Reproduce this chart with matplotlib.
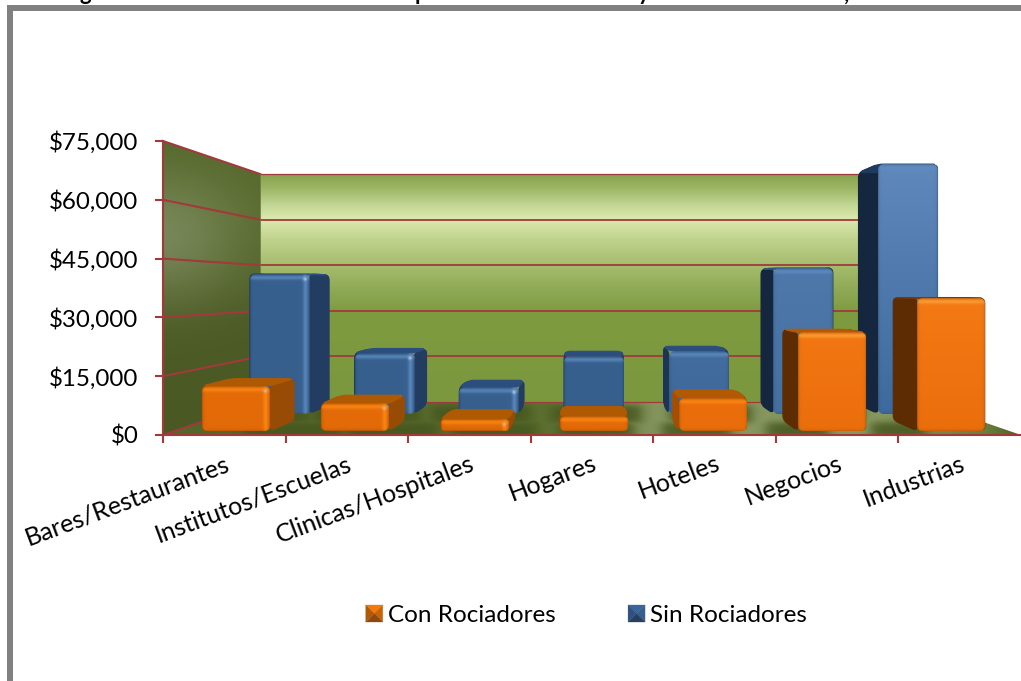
import numpy as np
import matplotlib
matplotlib.use("Agg")
import matplotlib.pyplot as plt
from matplotlib.colors import to_rgb
from matplotlib.legend_handler import HandlerBase
from matplotlib.lines import Line2D
from matplotlib.patches import Patch, PathPatch, Polygon, Rectangle
from matplotlib.path import Path
from matplotlib.ticker import FuncFormatter

# --- data -----------------------------------------------------------------
categories = ["Bares/Restaurantes", "Institutos/Escuelas", "Clinicas/Hospitales",
              "Hogares", "Hoteles", "Negocios", "Industrias"]
con_rociadores = [11800, 7100, 3000, 3900, 8600, 25800, 34800]
sin_rociadores = [41700, 18100, 7900, 17200, 18800, 43500, 74500]
series_names = ["Con Rociadores", "Sin Rociadores"]
value_ticks = [0, 15000, 30000, 45000, 60000, 75000]

# --- styling --------------------------------------------------------------
W, H = 1021, 681
AX_L, AX_R, AX_T, AX_B = 163, 1021, 141, 435
RED = "#A23A3C"
FONT = "Lato"

plt.rcParams["font.family"] = [FONT, "DejaVu Sans"]

orange_front = ["#E56B08", "#E56B08", "#E56B08", "#E56B08", "#EA6E0A", "#F27712", "#F47A15"]
orange_front_low = ["#E26A08", "#E26A08", "#E26A08", "#E26A08", "#E96D0B", "#EB6E0C", "#EB6E0C"]
orange_side = ["#974B04", "#974B04", "#974B04", "#974B04", "#A34E03", "#5E2C02", "#5E2C02"]
orange_top = ["#AF5903", "#AF5903", "#AF5903", "#AF5903", "#B25A03", "#B35A03", "#7A3A02"]
blue_front = ["#38608F", "#38608F", "#38608F", "#38608F", "#436D9F", "#4F78AB", "#6088BC"]
blue_front_low = ["#38608F", "#38608F", "#38608F", "#38608F", "#3E6899", "#44709F", "#3D6A9E"]
blue_side = ["#223C62", "#223C62", "#223C62", "#223C62", "#1C3554", "#15273F", "#15273F"]
blue_top = ["#2C4E7E", "#2C4E7E", "#2C4E7E", "#2C4E7E", "#2C4E7E", "#2F5180", "#1F3A5E"]

# depth of each bar row, from 0 at the front plane to 1 at the back wall
ROW_CON = (0.10, 0.384)
ROW_SIN = (0.59, 0.89)
BAR_LEFT, BAR_RIGHT = 0.228, 0.796

# perspective: everything converges on one vanishing point in data units
VANISH_X, VANISH_V = 3.525, 37500.0
PERSPECTIVE = 0.2895

PX_X = (AX_R - AX_L) / 7.0
PX_V = (AX_B - AX_T) / 75000.0


def project(x, v, depth):
    s = 1.0 / (1.0 + PERSPECTIVE * depth)
    return VANISH_X + s * (x - VANISH_X), VANISH_V + s * (v - VANISH_V)


def lerp(a, b, t):
    a, b = np.asarray(a), np.asarray(b)
    t = np.asarray(t)[..., None]
    return a * (1 - t) + b * t


def ramp(positions, colors, samples):
    rgb = np.array([to_rgb(c) for c in colors])
    return np.stack([np.interp(samples, positions, rgb[:, i]) for i in range(3)], axis=-1)


def rounded_outline(points, radius_px):
    """Closed path through data-space points with the corners eased off."""
    pts = np.array(points) * (PX_X, PX_V)
    n = len(pts)
    verts, codes = [], []
    for k in range(n):
        prev_pt, corner, next_pt = pts[k - 1], pts[k], pts[(k + 1) % n]
        to_prev, to_next = prev_pt - corner, next_pt - corner
        len_prev, len_next = np.hypot(*to_prev), np.hypot(*to_next)
        r_in = min(radius_px, len_prev * 0.45)
        r_out = min(radius_px, len_next * 0.45)
        start = corner + to_prev / max(len_prev, 1e-6) * r_in
        end = corner + to_next / max(len_next, 1e-6) * r_out
        if k == 0:
            verts.append(start)
            codes.append(Path.MOVETO)
        else:
            verts.append(start)
            codes.append(Path.LINETO)
        verts.extend([corner, end])
        codes.extend([Path.CURVE3, Path.CURVE3])
    verts.append(verts[0])
    codes.append(Path.CLOSEPOLY)
    return Path(np.array(verts) / (PX_X, PX_V), codes)


fig = plt.figure(figsize=(W / 100, H / 100), dpi=100)
ax = fig.add_axes([AX_L / W, 1 - AX_B / H, (AX_R - AX_L) / W, (AX_B - AX_T) / H])
ax.set_facecolor("none")
ax.set_autoscale_on(False)
ax.set_xlim(0, 7)
ax.set_ylim(0, 75000)


def draw_image(rgba, x0, x1, v0, v1, clip=None, zorder=1):
    im = ax.imshow(rgba, extent=(x0, x1, v0, v1), origin="upper", aspect="auto",
                   zorder=zorder, interpolation="bilinear", clip_on=clip is not None)
    if clip is not None:
        im.set_clip_path(clip)
    return im


# --- walls and floor -------------------------------------------------------
bx0, bv0 = project(0, 0, 1)
bx7, bv7 = project(7, 75000, 1)

# back wall: light band across the upper part, flat olive below
rows = np.linspace(bv7, bv0, 240)
row_px = AX_B - rows * PX_V
wall_rgb = ramp([174, 190, 205, 219, 240, 265, 290, 312, 402],
                ["#88A24E", "#A0B96A", "#C3D795", "#DCE9AE", "#BFD28C", "#A6BC6E",
                 "#8EA955", "#7F9B40", "#7C983E"], row_px)
wall = np.repeat(wall_rgb[:, None, :], 4, axis=1)
draw_image(wall, bx0, bx7, bv0, bv7, zorder=1)

# side wall: dark olive with a soft pale patch
sx = np.linspace(AX_L, 260, 120)
sy = np.linspace(AX_T, 402, 300)
gx, gy = np.meshgrid(sx, sy)
patch_amount = np.exp(-((gx - 160) / 85) ** 2 - ((gy - 225) / 58) ** 2)
side_base = ramp([141, 200, 300, 435], ["#54662A", "#566829", "#4C5B25", "#4A5923"], gy)
side_rgb = lerp(side_base.reshape(-1, 3), to_rgb("#85936A"), patch_amount.ravel() * 0.72).reshape(gx.shape + (3,))
side_poly = Polygon([project(0, 75000, 0), project(0, 75000, 1), project(0, 0, 1), project(0, 0, 0)],
                    transform=ax.transData, closed=True, facecolor="none", edgecolor="none")
ax.add_patch(side_poly)
draw_image(side_rgb, 0, bx0, 0, 75000, clip=side_poly, zorder=1)

# floor with soft shadows around the foot of each bar
fx = np.linspace(AX_L, AX_R, 860)
fy = np.linspace(402, 435, 70)
hx, hy = np.meshgrid(fx, fy)
floor_rgb = ramp([163, 545, 660, 880, 985, 1021],
                 ["#546629", "#5C7030", "#85975F", "#87995F", "#6A7E3E", "#4C5F22"], hx)
shadow = np.zeros_like(hx)
for i in range(len(categories)):
    for depth_range, pad in ((ROW_CON, 16), (ROW_SIN, 12)):
        xa, va = project(i + BAR_LEFT, 0, depth_range[0])
        xb, vb = project(i + BAR_RIGHT, 0, depth_range[1])
        left = AX_L + min(xa, xb) * PX_X - pad * 0.6
        right = AX_L + max(xa, xb) * PX_X + pad
        top = AX_B - vb * PX_V
        bottom = AX_B - va * PX_V + 1
        cover = (0.5 * (np.tanh((hx - left) / 7) - np.tanh((hx - right) / 7))
                 * 0.5 * (np.tanh((hy - top + 6) / 4) - np.tanh((hy - bottom) / 4)))
        shadow = np.maximum(shadow, cover)
floor_rgb = lerp(floor_rgb, to_rgb("#46571F"), shadow * 0.9)
floor_poly = Polygon([project(0, 0, 0), project(0, 0, 1), project(7, 0, 1), project(7, 0, 0)],
                     transform=ax.transData, closed=True, facecolor="none", edgecolor="none")
ax.add_patch(floor_poly)
draw_image(floor_rgb[::-1], 0, 7, 0, (AX_B - 402) / PX_V, clip=floor_poly, zorder=1.5)

# gridlines on the side wall and along the back wall
for tick in value_ticks:
    xa, va = project(0, tick, 0)
    xb, vb = project(0, tick, 1)
    xc, vc = project(7, tick, 1)
    ax.add_line(Line2D([xa, xb], [va, vb], color=RED, lw=1.5, zorder=2, clip_on=False))
    ax.add_line(Line2D([xb, xc], [vb, vc], color=RED, lw=1.3 if 0 < tick < 75000 else 0.9,
                       zorder=2, clip_on=False))
ax.add_line(Line2D([bx0, bx0], [bv0, bv7], color="#6A7A3A", lw=0.6, zorder=2, clip_on=False))


# --- bars ------------------------------------------------------------------
def front_face(width_px, height_px, top_c, low_c, hi_c, right_bevel, spot):
    """Rounded, bevelled front of a bar as an RGBA image."""
    ss = 3
    nx, ny = max(int(width_px * ss), 4), max(int(height_px * ss), 4)
    u = (np.arange(nx) + 0.5) / ss
    v = (np.arange(ny) + 0.5) / ss
    uu, vv = np.meshgrid(u, v)
    rgb = lerp(to_rgb(top_c), to_rgb(low_c), vv / height_px)

    band = min(3.5, height_px * 0.25)
    top_band = np.exp(-((vv - band) / 2.2) ** 2) * 0.75
    rgb = lerp(rgb, to_rgb(hi_c), top_band)
    if right_bevel:
        side_band = np.exp(-((width_px - uu - 4.5) / 2.4) ** 2) * 0.8
        rgb = lerp(rgb, to_rgb(hi_c), side_band)
    if spot:
        dist2 = (width_px - uu - 5) ** 2 + (vv - 5) ** 2
        rgb = lerp(rgb, (0.80, 0.85, 0.92), np.exp(-dist2 / 3.0) * spot)
    edge = np.minimum.reduce([uu, width_px - uu, vv, height_px - vv])
    rgb = rgb * (1 - 0.22 * np.exp(-edge / 1.1))[..., None]

    radius = min(6.0, height_px * 0.35)
    qx = np.abs(uu - width_px / 2) - (width_px / 2 - radius)
    qy = np.abs(vv - height_px / 2) - (height_px / 2 - radius)
    sdf = np.hypot(np.maximum(qx, 0), np.maximum(qy, 0)) + np.minimum(np.maximum(qx, qy), 0) - radius
    alpha = np.clip(0.5 - sdf, 0, 1)
    return np.dstack([np.clip(rgb, 0, 1), alpha])


def draw_bar(i, value, row, front_c, low_c, side_c, top_c, hi_c, spot, zorder):
    d0, d1 = row
    xl, xr = i + BAR_LEFT, i + BAR_RIGHT
    faces = [
        ([(xl, 0, d0), (xl, 0, d1), (xl, value, d1), (xl, value, d0)], side_c),
        ([(xr, 0, d0), (xr, 0, d1), (xr, value, d1), (xr, value, d0)], side_c),
        ([(xl, value, d0), (xl, value, d1), (xr, value, d1), (xr, value, d0)], top_c),
    ]
    for corners, color in faces:
        pts = [project(*c) for c in corners]
        ax.add_patch(PathPatch(rounded_outline(pts, 5), facecolor=color, edgecolor=color, lw=0.8,
                               zorder=zorder, clip_on=False))
    x0, v0 = project(xl, 0, d0)
    x1, v1 = project(xr, value, d0)
    bevel_right = x1 < VANISH_X - 0.4
    img = front_face((x1 - x0) * PX_X, (v1 - v0) * PX_V, front_c, low_c, hi_c, bevel_right,
                     spot if bevel_right else 0)
    ax.imshow(img, extent=(x0, x1, v0, v1), origin="upper", aspect="auto",
              zorder=zorder + 0.1, interpolation="antialiased", clip_on=False)


for i, value in enumerate(sin_rociadores):
    draw_bar(i, value, ROW_SIN, blue_front[i], blue_front_low[i], blue_side[i], blue_top[i],
             "#5F8FC4", 0.75, 3 + i * 0.01)
for i, value in enumerate(con_rociadores):
    draw_bar(i, value, ROW_CON, orange_front[i], orange_front_low[i], orange_side[i], orange_top[i],
             "#FF8C14" if i < 5 else "#FFA53C", 0.6, 4 + i * 0.01)

# --- axes ------------------------------------------------------------------
for name in ("top", "right"):
    ax.spines[name].set_visible(False)
for name in ("left", "bottom"):
    ax.spines[name].set_color(RED)
    ax.spines[name].set_linewidth(1.5)
    ax.spines[name].set_zorder(2.5)
ax.set_xticks(range(7))
ax.set_xticks(np.arange(7) + 0.5, categories, minor=True)
ax.set_xticklabels([])
ax.set_yticks(value_ticks)
ax.yaxis.set_major_formatter(FuncFormatter(lambda y, _: f"${y:,.0f}"))
ax.tick_params(axis="both", which="major", length=5.8, width=1.5, color=RED,
               labelsize=17.4, labelcolor="black", pad=12)
ax.tick_params(axis="x", which="minor", length=0, pad=12, labelsize=18)
for label in ax.get_xticklabels(minor=True):
    label.set_rotation(20.5)
    label.set_ha("right")
    label.set_va("top")
    label.set_rotation_mode("anchor")


# --- legend ----------------------------------------------------------------
class PyramidSwatch(Patch):
    def __init__(self, faces, label):
        super().__init__(label=label)
        self.faces = faces


class PyramidHandler(HandlerBase):
    def create_artists(self, legend, handle, xd, yd, width, height, fontsize, trans):
        x0, y0, x1, y1 = -xd, -yd, -xd + width, -yd + height
        cx, cy = (x0 + x1) / 2, (y0 + y1) / 2
        tri = [[(x0, y1), (x1, y1)], [(x1, y1), (x1, y0)], [(x1, y0), (x0, y0)], [(x0, y0), (x0, y1)]]
        return [Polygon([a, b, (cx, cy)], closed=True, facecolor=c, edgecolor=c, lw=0.2, transform=trans)
                for (a, b), c in zip(tri, handle.faces)]


handles = [
    PyramidSwatch(["#F57A0B", "#C96406", "#8A4A10", "#B05A08"], series_names[0]),
    PyramidSwatch(["#3C6699", "#38608F", "#263F62", "#2F5180"], series_names[1]),
]
fig.legend(handles=handles, handler_map={PyramidSwatch: PyramidHandler()}, loc="center",
           bbox_to_anchor=(586.5 / W, 1 - 615.5 / H), ncol=2, frameon=False, fontsize=17.5,
           handlelength=0.7, handleheight=0.7, handletextpad=0.22, columnspacing=2.97)

# --- page frame and the clipped heading above it ---------------------------
fig.add_artist(Rectangle((7 / W, 0), 6 / W, 1 - 5 / H, transform=fig.transFigure, facecolor="#808080", edgecolor="none"))
fig.add_artist(Rectangle((7 / W, 1 - 11 / H), 1 - 7 / W, 6 / H, transform=fig.transFigure, facecolor="#808080", edgecolor="none"))
heading_marks = ["g", "p", "y", ","]
heading_x = [85, 421, 644, 847]
for ch, px in zip(heading_marks, heading_x):
    fig.text(px / W, 1 - 0.5 / H, ch, ha="center", va="baseline", fontsize=16, fontweight="bold", color="black")

fig.savefig("out.png", dpi=100)
